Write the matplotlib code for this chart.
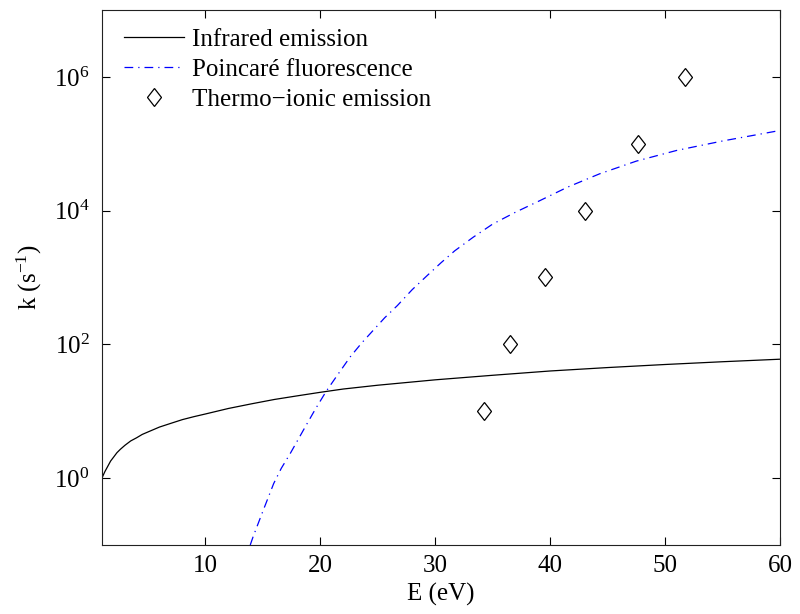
import matplotlib
matplotlib.use("Agg")
import matplotlib.pyplot as plt
from matplotlib.ticker import FixedLocator, NullLocator
from matplotlib.markers import MarkerStyle
from matplotlib.transforms import Affine2D

plt.rcParams['font.family'] = ['Liberation Serif', 'DejaVu Serif']
plt.rcParams['mathtext.fontset'] = 'custom'
plt.rcParams['mathtext.rm'] = 'Liberation Serif'
plt.rcParams['mathtext.it'] = 'Liberation Serif:italic'

# Infrared emission
ir_E = [1.0, 1.1, 1.25, 1.5, 1.75, 2.0, 2.3, 2.6, 3.0, 3.5, 4.0, 4.5, 5.0, 6.0, 7.0, 8.0, 9.0, 10.0,
        12.0, 14.0, 16.0, 18.0, 20.0, 22.0, 25.0, 30.0, 35.0, 40.0, 45.0, 50.0, 55.0, 60.0]
ir_k = [1.0, 1.1, 1.25, 1.5, 1.8, 2.05, 2.4, 2.7, 3.1, 3.6, 4.0, 4.5, 4.9, 5.8, 6.6, 7.5, 8.3, 9.1,
        11.0, 12.9, 15.0, 17.0, 19.2, 21.5, 24.5, 29.5, 34.5, 40.0, 45.0, 50.0, 55.0, 60.0]

# Poincaré fluorescence
pf_E = [13.9, 14.15, 15.0, 15.94, 16.6, 17.39, 18.7, 19.6, 20.52, 21.5, 22.6, 23.6, 24.6, 25.6, 26.7,
        28.0, 29.3, 30.5, 31.7, 33.3, 35.0, 37.0, 39.1, 41.5, 44.3, 47.5, 51.0, 55.0, 60.0]
pf_k = [0.1, 0.133, 0.32, 0.83, 1.4, 2.35, 5.9, 11.0, 20.0, 35.0, 65.0, 105, 162, 250, 380,
        660, 1070, 1660, 2510, 4000, 6300, 9500, 14100, 22400, 35500, 55000, 79400, 110000, 158000]

# Thermo-ionic emission
te_E = [34.2, 36.5, 39.55, 43.0, 47.6, 51.7]
te_k = [1e1, 1e2, 1e3, 1e4, 1e5, 1e6]

x_ticks = [10, 20, 30, 40, 50, 60]
y_ticks = [1e0, 1e2, 1e4, 1e6]
y_tick_labels = [r'$10^{0}$', r'$10^{2}$', r'$10^{4}$', r'$10^{6}$']

fig = plt.figure(figsize=(8.0, 6.14), dpi=100)
ax = fig.add_axes([0.1275, 0.1124, 0.975 - 0.1275, 0.9837 - 0.1124])

diamond = MarkerStyle('D', fillstyle='full', transform=Affine2D().scale(0.78, 1.0))

ax.plot(ir_E, ir_k, color='black', lw=0.9, label='Infrared emission')
ax.plot(pf_E, pf_k, color='#0000ff', lw=0.9, linestyle=(0, (7, 4, 1, 4)), label='Poincaré fluorescence')
ax.plot(te_E, te_k, linestyle='none', marker=diamond, markersize=9.5, markerfacecolor='white',
        markeredgecolor='black', markeredgewidth=0.9, label='Thermo\u2212ionic emission')

ax.set_yscale('log')
ax.set_xlim(1, 60)
ax.set_ylim(1e-1, 1e7)
ax.xaxis.set_major_locator(FixedLocator(x_ticks))
ax.xaxis.set_minor_locator(NullLocator())
ax.yaxis.set_major_locator(FixedLocator(y_ticks))
ax.yaxis.set_minor_locator(NullLocator())
ax.set_xticklabels([str(v) for v in x_ticks])
ax.set_yticklabels(y_tick_labels)
ax.tick_params(direction='in', top=True, right=True, length=6, width=0.8, labelsize=18)
ax.tick_params(axis='x', pad=7)
ax.tick_params(axis='y', pad=9)
for s in ax.spines.values():
    s.set_linewidth(0.8)
    s.set_color('#222222')

ax.set_xlabel('E (eV)', fontsize=18, labelpad=4.5)
ax.set_ylabel(r'k (s$^{-1}$)', fontsize=18, labelpad=7)

leg = ax.legend(loc='upper left', frameon=False, fontsize=18, handlelength=2.4,
                handletextpad=0.3, labelspacing=0.3, borderaxespad=0.0,
                bbox_to_anchor=(0.018, 0.985))

fig.savefig('out.png', dpi=100)
